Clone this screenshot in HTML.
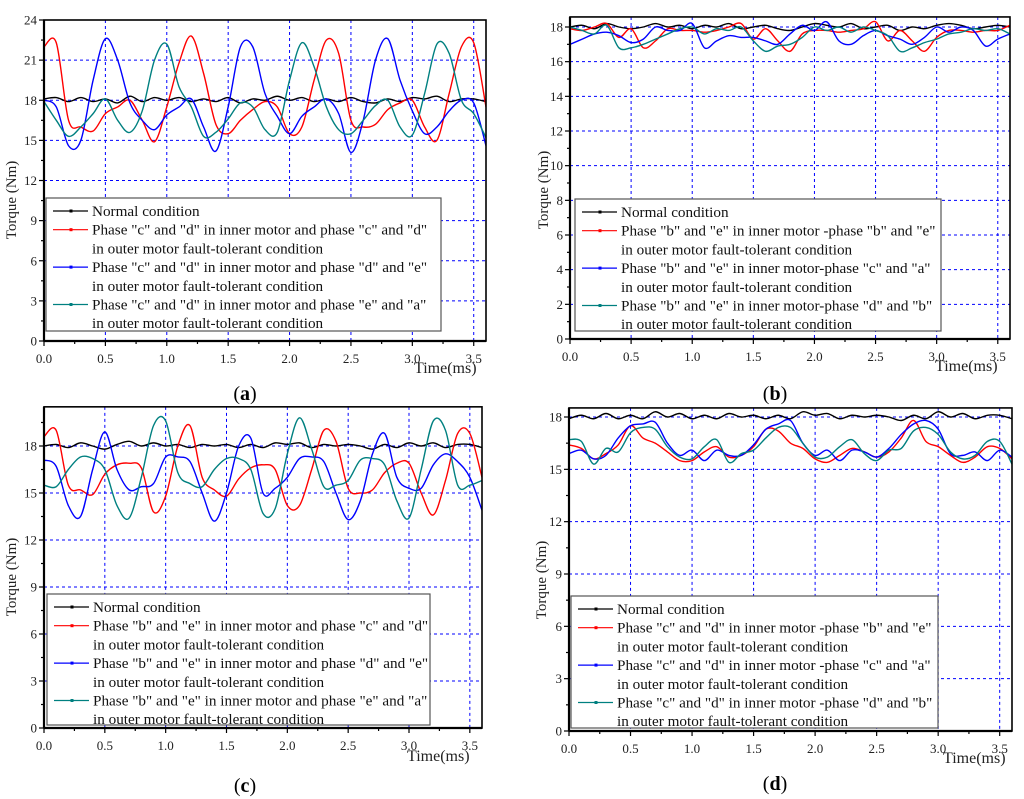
<!DOCTYPE html>
<html><head><meta charset="utf-8"><style>
html,body{margin:0;padding:0;background:#fff;}
svg{display:block;font-family:"Liberation Serif",serif;}
</style></head><body>
<svg id="fig" width="1024" height="799" viewBox="0 0 1024 799" xmlns="http://www.w3.org/2000/svg"></svg>
<script>
const timeValues = [0,0.1,0.2,0.3,0.4,0.5,0.6,0.7,0.8,0.9,1.0,1.1,1.2,1.3,1.4,1.5,1.6,1.7,1.8,1.9,2.0,2.1,2.2,2.3,2.4,2.5,2.6,2.7,2.8,2.9,3.0,3.1,3.2,3.3,3.4,3.5,3.6];
const xTickLabels = ["0.0","0.5","1.0","1.5","2.0","2.5","3.0","3.5"];

const aNormal = [18.1,18.2,17.9,18.2,17.9,18.1,17.8,18.3,17.9,18.2,18.0,18.2,17.9,18.1,17.9,18.2,17.8,18.1,18.0,18.3,18.0,18.2,17.9,18.1,17.9,18.2,17.9,17.8,18.1,17.9,18.2,18.1,18.3,17.9,18.1,18.1,17.9];
const aRed = [22.0,22.3,16.5,16.0,15.7,17.0,17.5,18.0,16.5,14.9,17.5,20.8,22.8,20.0,16.2,15.5,16.5,17.3,17.9,17.5,15.5,16.0,19.5,22.5,21.5,16.5,16.0,16.2,17.3,17.8,18.0,16.0,15.0,18.5,22.0,22.3,17.5];
const aBlue = [18.0,17.5,14.6,15.0,19.5,22.6,21.0,17.8,16.5,15.8,16.9,17.5,18.1,16.0,14.2,17.5,22.0,22.0,18.5,16.8,15.5,16.8,17.5,18.1,17.0,14.1,16.5,21.0,22.6,19.5,17.2,15.5,16.0,17.2,18.0,17.8,14.6];
const aTeal = [17.9,16.5,15.3,16.0,17.0,18.1,16.5,15.6,17.2,21.0,22.2,19.0,17.5,15.3,15.6,16.6,17.8,17.5,15.8,15.6,19.5,22.3,20.5,17.5,15.8,15.5,16.5,17.6,18.0,16.0,15.4,18.5,22.2,21.5,18.0,17.0,15.2];

const bNormal = [18.0,18.1,17.9,18.2,18.0,17.9,18.0,18.2,18.0,18.1,17.9,18.1,18.0,18.2,17.9,18.0,18.1,17.9,17.8,18.0,18.2,18.1,18.0,18.2,17.9,18.0,18.1,17.8,18.0,17.9,18.1,18.2,18.1,17.9,18.0,18.1,18.0];
const bRed = [17.9,17.8,18.0,18.2,17.4,17.9,16.8,17.2,17.9,17.8,17.8,17.7,17.8,18.0,18.2,17.3,17.9,17.2,16.6,17.6,17.8,17.8,17.7,17.8,17.9,18.3,17.2,17.8,17.2,16.6,17.4,17.8,17.8,17.7,17.8,17.8,18.1];
const bBlue = [17.0,17.3,17.6,17.7,17.5,17.1,17.3,18.0,17.8,17.8,18.2,16.8,17.2,17.5,17.4,17.4,17.2,17.0,17.6,18.1,17.8,18.3,17.2,17.0,17.5,17.8,17.5,17.3,17.0,17.4,18.0,17.7,18.0,17.8,16.9,17.3,17.6];
const bTeal = [18.0,17.8,17.6,18.1,16.8,16.8,17.0,17.3,17.6,17.9,18.0,17.6,17.9,17.8,18.0,17.2,16.6,16.9,17.0,17.4,18.0,17.8,18.0,17.7,18.0,17.8,17.5,16.6,16.8,17.1,17.3,17.6,17.7,17.9,17.8,17.9,17.6];

const cNormal = [18.0,18.1,17.9,18.2,18.0,17.8,18.1,18.3,18.0,18.2,18.0,18.1,17.9,18.1,18.0,18.1,17.9,18.1,17.9,18.2,18.1,18.2,17.9,18.1,18.0,18.1,18.0,17.8,18.1,17.9,18.2,18.0,18.2,17.9,18.1,18.1,17.9];
const cRed = [18.6,19.0,15.5,15.2,14.9,16.2,16.8,16.9,16.6,13.8,14.8,18.0,19.3,16.0,15.2,14.8,15.9,16.6,16.8,16.5,14.2,14.2,16.5,19.0,18.3,15.3,15.0,15.2,16.3,16.9,16.9,15.0,13.6,15.8,18.8,18.8,16.0];
const cBlue = [17.1,16.7,14.2,13.5,16.5,18.9,16.5,15.2,15.4,15.6,17.3,17.3,17.0,15.0,13.2,15.0,18.0,18.5,15.0,15.3,16.0,17.2,17.3,17.0,15.0,13.3,14.5,17.5,18.8,16.0,15.3,15.3,16.8,17.5,17.0,16.0,13.9];
const cTeal = [15.5,15.4,16.5,17.3,17.2,16.5,14.2,13.4,16.0,19.3,19.6,16.3,15.6,15.4,16.5,17.2,17.2,16.5,13.7,14.0,17.5,19.8,17.8,15.4,15.5,15.8,17.1,17.2,16.8,14.5,13.4,16.5,19.6,19.0,15.5,15.5,15.8];

const dNormal = [17.9,18.1,17.9,18.2,17.9,18.1,17.9,18.3,18.0,18.2,17.9,18.1,17.9,18.2,18.0,18.1,17.9,18.1,17.9,18.3,18.1,18.2,17.9,18.1,18.0,18.1,18.0,17.8,18.1,17.9,18.3,18.0,18.2,17.9,18.1,18.1,17.9];
const dRed = [16.4,16.2,15.6,15.9,16.4,17.5,16.8,16.5,16.0,15.5,15.5,16.0,16.3,15.7,15.8,16.3,17.3,17.2,16.5,16.2,15.6,15.4,15.8,16.2,16.0,15.7,16.0,16.8,17.8,16.6,16.3,15.8,15.4,15.7,16.3,16.2,15.6];
const dBlue = [15.9,16.1,15.6,15.8,16.8,17.5,17.6,17.7,16.5,15.8,16.1,15.5,16.1,15.8,15.8,16.4,17.3,17.6,17.8,16.5,15.8,16.1,15.5,16.1,16.0,15.7,16.2,17.0,17.6,17.8,17.3,15.9,15.8,16.0,15.5,16.1,15.7];
const dTeal = [16.7,16.6,15.3,16.2,16.0,17.1,17.4,17.3,16.3,15.7,15.6,16.3,16.7,15.4,15.9,16.1,16.8,17.4,17.4,16.5,15.7,15.7,16.3,16.7,15.9,15.5,16.1,16.2,17.2,17.4,17.0,16.0,15.6,15.8,16.6,16.6,15.3];

const aLegend = ['Normal condition','Phase "c" and "d" in inner motor and phase "c" and "d"|in outer motor fault-tolerant condition','Phase "c" and "d"  in inner motor and phase "d" and "e"|in outer motor fault-tolerant condition','Phase "c" and "d"  in inner motor and phase "e" and "a"|in outer motor fault-tolerant condition'];
const bLegend = ['Normal condition','Phase "b" and "e"  in inner motor -phase "b" and "e"|in outer motor fault-tolerant condition','Phase "b" and "e" in inner motor-phase "c" and "a"|in outer motor fault-tolerant condition','Phase "b" and "e" in inner motor-phase "d" and "b"|in outer motor fault-tolerant condition'];
const cLegend = ['Normal condition','Phase "b" and "e" in inner motor and phase "c" and "d"|in outer motor fault-tolerant condition','Phase "b" and "e" in inner motor and phase "d" and "e"|in outer motor fault-tolerant condition','Phase "b" and "e" in inner motor and phase "e" and "a"|in outer motor fault-tolerant condition'];
const dLegend = ['Normal condition','Phase "c" and "d" in inner motor -phase "b" and "e"|in outer motor fault-tolerant condition','Phase "c" and "d" in inner motor -phase "c" and "a"|in outer motor fault-tolerant condition','Phase "c" and "d" in inner motor -phase "d" and "b"|in outer motor fault-tolerant condition'];

const NS = 'http://www.w3.org/2000/svg';
const fig = document.getElementById('fig');
const COLORS = ['#000000','#ff0000','#0000ff','#008080'];
function mk(tag, attrs, parent){
  const e = document.createElementNS(NS, tag);
  for (const k in attrs) e.setAttribute(k, attrs[k]);
  (parent||fig).appendChild(e);
  return e;
}
function smoothPath(pts){
  let d = 'M'+pts[0][0].toFixed(2)+','+pts[0][1].toFixed(2);
  for (let i=0;i<pts.length-1;i++){
    const p0=pts[i-1]||pts[i], p1=pts[i], p2=pts[i+1], p3=pts[i+2]||p2;
    const c1x=p1[0]+(p2[0]-p0[0])/6, c1y=p1[1]+(p2[1]-p0[1])/6;
    const c2x=p2[0]-(p3[0]-p1[0])/6, c2y=p2[1]-(p3[1]-p1[1])/6;
    d+=' C'+c1x.toFixed(2)+','+c1y.toFixed(2)+' '+c2x.toFixed(2)+','+c2y.toFixed(2)+' '+p2[0].toFixed(2)+','+p2[1].toFixed(2);
  }
  return d;
}
function panel(cfg){
  const g = mk('g',{});
  
  
  const xs = t => cfg.x0 + (t/3.6)*(cfg.x1-cfg.x0);
  const ys = v => cfg.yb - v*(cfg.yb-cfg.y18)/18;
  const top = ys(cfg.ymax);
  const clipId = 'clip'+cfg.id;
  const cp = mk('clipPath',{id:clipId}, g);
  mk('rect',{x:cfg.x0,y:top,width:cfg.x1-cfg.x0,height:cfg.yb-top},cp);
  const grid = mk('g',{stroke:'#0000ff','stroke-width':1,'stroke-dasharray':'3,3'},g);
  
  
  for (let i=1;i<xTickLabels.length;i++){const x=xs(parseFloat(xTickLabels[i])); mk('line',{x1:x,x2:x,y1:top,y2:cfg.yb},grid);}
  for (let v=cfg.step; v<=cfg.ymax; v+=cfg.step){const y=ys(v); mk('line',{x1:cfg.x0,x2:cfg.x1,y1:y,y2:y},grid);}
  cfg.series.forEach((s,i)=>{
    const pts = timeValues.map((t,j)=>[xs(t), ys(s[j])]);
    const p = mk('path',{d:smoothPath(pts),fill:'none',stroke:COLORS[i],'stroke-width':1.4,'clip-path':'url(#'+clipId+')'},g);
    
    
  });
  const lg = mk('g',{},g);
  
  
  mk('rect',{x:cfg.lx,y:cfg.ly,width:cfg.lw,height:cfg.lh,fill:'#fff',stroke:'#555','stroke-width':1.2},lg);
  let y = cfg.ly+13;
  cfg.legend.forEach((txt,i)=>{
    const e = mk('g',{},lg);
    
    
    mk('line',{x1:cfg.lx+7,x2:cfg.lx+42,y1:y,y2:y,stroke:COLORS[i],'stroke-width':1.2},e);
    mk('rect',{x:cfg.lx+23.5,y:y-1.5,width:3,height:3,fill:COLORS[i]},e);
    txt.split('|').forEach((line,k)=>{
      const t = mk('text',{x:cfg.lx+46,y:y+5+k*18.7,'font-size':15.2,fill:'#111'},e);
      t.textContent = line;
      if(k>0) y+=18.7;
    });
    y+=18.7;
  });
  mk('rect',{x:cfg.x0,y:top,width:cfg.x1-cfg.x0,height:cfg.yb-top,fill:'none',stroke:'#000','stroke-width':1.6},g);
  mk('line',{x1:cfg.x0,x2:cfg.x1,y1:cfg.yb,y2:cfg.yb,stroke:'#000','stroke-width':2.2},g);
  mk('line',{x1:cfg.x0,x2:cfg.x0,y1:top,y2:cfg.yb,stroke:'#000','stroke-width':2.2},g);
  const xt = mk('g',{'font-size':13,'text-anchor':'middle',fill:'#222'},g);
  
  
  for (let t=0;t<=3.6001;t+=0.25){const x=xs(t); mk('line',{x1:x,x2:x,y1:cfg.yb,y2:cfg.yb+(Math.abs(t*2-Math.round(t*2))<1e-6?5:3),stroke:'#000','stroke-width':1.2},xt);}
  xTickLabels.forEach(l=>{const tx=mk('text',{x:xs(parseFloat(l)),y:cfg.yb+22},xt); tx.textContent=l;});
  const xl = mk('text',{x:cfg.tx,y:cfg.ty,'font-size':16,fill:'#222'},g);
  xl.textContent='Time(ms)';
  
  
  const yt = mk('g',{'font-size':13,'text-anchor':'end',fill:'#222'},g);
  
  
  for (let v=0; v<=cfg.ymax+1e-6; v+=cfg.step/2){const yy=ys(v); const major=Math.abs(v/cfg.step-Math.round(v/cfg.step))<1e-6; mk('line',{x1:cfg.x0-(major?5:3),x2:cfg.x0,y1:yy,y2:yy,stroke:'#000','stroke-width':1.2},yt);
    if(major){const tx=mk('text',{x:cfg.x0-7,y:yy+4.5},yt); tx.textContent=String(Math.round(v));}}
  const yl = mk('text',{x:0,y:0,'font-size':15,'text-anchor':'middle',fill:'#222',transform:'translate('+cfg.ytx+','+cfg.yty+') rotate(-90)'},g);
  yl.textContent='Torque (Nm)';
  
  
  const cap = mk('text',{x:cfg.capx,y:cfg.capy,'font-size':20,'text-anchor':'middle',fill:'#000'},g);
  cap.innerHTML = '(<tspan font-weight="bold">'+cfg.id+'</tspan>)';
  
  
}
panel({id:'a',x0:44,x1:486,yb:341,y18:100.25,ymax:24,step:3,series:[aNormal,aRed,aBlue,aTeal],legend:aLegend,lx:46,ly:198,lw:395,lh:133,tx:414,ty:373,ytx:16,yty:200,capx:245,capy:400});
panel({id:'b',x0:570,x1:1010,yb:339,y18:27,ymax:18.58,step:2,series:[bNormal,bRed,bBlue,bTeal],legend:bLegend,lx:575,ly:199,lw:366,lh:132,tx:935,ty:371,ytx:548,yty:190,capx:775,capy:400});
panel({id:'c',x0:44,x1:482,yb:728,y18:446,ymax:20.5,step:3,series:[cNormal,cRed,cBlue,cTeal],legend:cLegend,lx:47,ly:594,lw:383,lh:131,tx:407,ty:761,ytx:16,yty:577,capx:245,capy:792});
panel({id:'d',x0:569,x1:1012,yb:731,y18:417,ymax:18.52,step:3,series:[dNormal,dRed,dBlue,dTeal],legend:dLegend,lx:571,ly:596,lw:367,lh:132,tx:943,ty:763,ytx:546,yty:580,capx:775,capy:790});
</script>
</body></html>
